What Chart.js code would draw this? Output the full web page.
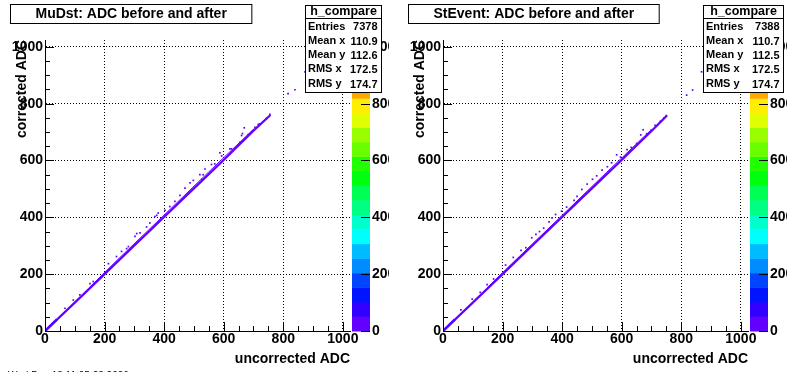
<!DOCTYPE html>
<html>
<head>
<meta charset="utf-8">
<script src="https://cdn.jsdelivr.net/npm/chart.js@4.4.0/dist/chart.umd.min.js"></script>
<style>
html, body { margin: 0; padding: 0; background: #fff; }
body { width: 796px; height: 372px; position: relative; overflow: hidden; }
.pad { position: absolute; top: 0; width: 389px; height: 372px; }
#padL { left: 0; }
#padR { left: 398px; }
</style>
</head>
<body>
<div class="pad" id="padL"><canvas id="cL" width="389" height="372"></canvas></div>
<div class="pad" id="padR"><canvas id="cR" width="389" height="372"></canvas></div>
<script>
// axis ranges (ADC counts) and colour scale range
const axisMax = 1024;
const zMax = 1024;
const nBands = 20;
const axisTicks = [0, 200, 400, 600, 800, 1000];
const zTicks = [0, 200, 400, 600, 800, 1000];

// MuDst panel
const mudstTitle = 'MuDst: ADC before and after';
const mudstStats = [['Entries', '7378'], ['Mean x', '110.9'], ['Mean y', '112.6'], ['RMS x', '172.5'], ['RMS y', '174.7']];
const mudstCore = [{x: 0, y: 0}, {x: 100, y: 100}, {x: 200, y: 200}, {x: 300, y: 301}, {x: 400, y: 401}, {x: 500, y: 502}, {x: 600, y: 602}, {x: 700, y: 705}, {x: 757, y: 760}];
const mudstFringe = [{x: 150, y: 154}, {x: 250, y: 257}, {x: 400, y: 408}, {x: 550, y: 560}, {x: 700, y: 710}];
const mudstLow = [{x: 0, y: 0}, {x: 40, y: 41}];
const mudstPeak = [{x: 2, y: 2}];
const mudstOutliers = [
  {x: 67, y: 80}, {x: 95, y: 109}, {x: 117, y: 127}, {x: 151, y: 167}, {x: 162, y: 174},
  {x: 213, y: 237}, {x: 240, y: 262}, {x: 257, y: 280}, {x: 274, y: 290}, {x: 280, y: 297},
  {x: 302, y: 333}, {x: 308, y: 343}, {x: 319, y: 345}, {x: 341, y: 366}, {x: 352, y: 380},
  {x: 369, y: 403}, {x: 375, y: 407}, {x: 380, y: 415}, {x: 403, y: 425}, {x: 419, y: 438},
  {x: 436, y: 456}, {x: 453, y: 477}, {x: 470, y: 503}, {x: 487, y: 521}, {x: 498, y: 530},
  {x: 520, y: 550}, {x: 526, y: 533}, {x: 531, y: 550}, {x: 537, y: 570}, {x: 559, y: 586},
  {x: 570, y: 588}, {x: 587, y: 627}, {x: 593, y: 616}, {x: 621, y: 641}, {x: 626, y: 641},
  {x: 654, y: 664}, {x: 660, y: 688}, {x: 663, y: 695}, {x: 669, y: 715}, {x: 682, y: 691},
  {x: 694, y: 701}, {x: 705, y: 717}, {x: 716, y: 727}, {x: 721, y: 729}, {x: 744, y: 748},
  {x: 755, y: 762}, {x: 816, y: 835}, {x: 839, y: 849}, {x: 873, y: 912}
];

// StEvent panel
const steventTitle = 'StEvent: ADC before and after';
const steventStats = [['Entries', '7388'], ['Mean x', '110.7'], ['Mean y', '112.5'], ['RMS x', '172.5'], ['RMS y', '174.7']];
const steventCore = [{x: 0, y: 0}, {x: 100, y: 100}, {x: 200, y: 200}, {x: 300, y: 301}, {x: 400, y: 401}, {x: 500, y: 502}, {x: 600, y: 602}, {x: 700, y: 704}, {x: 752, y: 758}];
const steventFringe = [{x: 150, y: 154}, {x: 250, y: 256}, {x: 400, y: 407}, {x: 550, y: 559}, {x: 700, y: 709}];
const steventLow = [{x: 0, y: 0}, {x: 40, y: 41}];
const steventPeak = [{x: 2, y: 2}];
const steventOutliers = [
  {x: 60, y: 74}, {x: 98, y: 112}, {x: 125, y: 136}, {x: 148, y: 163}, {x: 170, y: 183},
  {x: 210, y: 232}, {x: 236, y: 259}, {x: 262, y: 284}, {x: 278, y: 293}, {x: 298, y: 328},
  {x: 312, y: 340}, {x: 324, y: 350}, {x: 338, y: 362}, {x: 356, y: 384}, {x: 366, y: 398},
  {x: 378, y: 410}, {x: 398, y: 422}, {x: 415, y: 436}, {x: 440, y: 460}, {x: 450, y: 474},
  {x: 466, y: 498}, {x: 484, y: 517}, {x: 502, y: 534}, {x: 516, y: 546}, {x: 534, y: 566},
  {x: 552, y: 578}, {x: 566, y: 592}, {x: 583, y: 620}, {x: 596, y: 612}, {x: 618, y: 638},
  {x: 632, y: 646}, {x: 650, y: 660}, {x: 664, y: 690}, {x: 672, y: 708}, {x: 684, y: 694},
  {x: 698, y: 706}, {x: 712, y: 724}, {x: 730, y: 738}, {x: 742, y: 750}, {x: 750, y: 758},
  {x: 818, y: 830}, {x: 838, y: 848}, {x: 868, y: 912}
];

const footerText = 'Wed Dec 13 11:05:23 2006';
const FONT = "'Liberation Sans', Arial, Helvetica, sans-serif";

// ROOT "pretty" palette: 50 hues from violet to red, 20 contour bands
function bandColor(k) {
  const idx = Math.floor((k + 0.99) * 50 / nBands);
  const hue = 280 - (idx + 1) * 5.6;
  return `hsl(${hue.toFixed(1)}, 100%, 50%)`;
}

const rootPad = {
  id: 'rootPad',
  afterDraw(chart, args, opts) {
    const ctx = chart.ctx;
    const area = chart.chartArea;
    const xs = chart.scales.x, ys = chart.scales.y, zs = chart.scales.z;
    ctx.save();

    // ticks inside the frame
    ctx.strokeStyle = '#000';
    ctx.lineWidth = 1;
    ctx.beginPath();
    for (let v = 0; v <= 1000; v += 50) {
      const len = v % 200 === 0 ? 9 : 5;
      const px = Math.round(xs.getPixelForValue(v)) + 0.5;
      ctx.moveTo(px, area.bottom);
      ctx.lineTo(px, area.bottom - len);
      const py = Math.round(ys.getPixelForValue(v)) + 0.5;
      ctx.moveTo(area.left, py);
      ctx.lineTo(area.left + len, py);
    }
    ctx.stroke();

    // colour palette
    const bx = area.right + 2, bw = 18;
    for (let k = 0; k < nBands; k++) {
      const y0 = zs.getPixelForValue((k + 1) * zMax / nBands);
      const y1 = zs.getPixelForValue(k * zMax / nBands);
      ctx.fillStyle = bandColor(k);
      ctx.fillRect(bx, y0, bw, y1 - y0 + 0.5);
    }
    ctx.beginPath();
    zs.ticks.forEach(t => {
      const py = Math.round(zs.getPixelForValue(t.value)) + 0.5;
      ctx.moveTo(bx + bw - 9, py);
      ctx.lineTo(bx + bw, py);
    });
    ctx.stroke();

    // title box
    ctx.font = `bold 14px ${FONT}`;
    const tw = ctx.measureText(opts.title).width + 50;
    ctx.fillStyle = '#fff';
    ctx.fillRect(10.5, 4.5, tw, 19);
    ctx.strokeRect(10.5, 4.5, tw, 19);
    ctx.fillStyle = '#000';
    ctx.textAlign = 'center';
    ctx.textBaseline = 'middle';
    ctx.fillText(opts.title, 10.5 + tw / 2, 14.5);

    // statistics box
    const sx = 305.5, sy = 5.5, sw = opts.statsW, sh = 87;
    ctx.fillStyle = '#fff';
    ctx.fillRect(sx, sy, sw, sh);
    ctx.strokeRect(sx, sy, sw, sh);
    ctx.beginPath();
    ctx.moveTo(sx, 18.5);
    ctx.lineTo(sx + sw, 18.5);
    ctx.stroke();
    ctx.fillStyle = '#000';
    ctx.font = `bold 12.5px ${FONT}`;
    ctx.fillText('h_compare', sx + sw / 2, 12);
    ctx.font = `bold 11px ${FONT}`;
    opts.stats.forEach((row, i) => {
      const ry = 26.5 + i * 14.3;
      ctx.textAlign = 'left';
      ctx.fillText(row[0], sx + 2.5, ry);
      ctx.textAlign = 'right';
      ctx.fillText(row[1], sx + sw - 4, ry + 0.8);
    });

    // date stamp, mostly outside the pad
    if (opts.footer) {
      ctx.font = `10px ${FONT}`;
      ctx.textAlign = 'left';
      ctx.textBaseline = 'top';
      ctx.fillText(opts.footer, 8, 371);
    }
    ctx.restore();
  }
};

function fixedTicks(list) {
  return s => { s.ticks = list.map(v => ({ value: v })); };
}
const plainLabel = v => String(v);

function makePad(canvasId, title, stats, statsW, core, fringe, low, peak, outliers, footer) {
  const purple = bandColor(0);
  return new Chart(document.getElementById(canvasId), {
    type: 'scatter',
    data: {
      datasets: [
        { data: core, showLine: true, borderColor: purple, borderWidth: 2.2, pointRadius: 0 },
        { data: fringe, showLine: true, borderColor: purple, borderWidth: 1, pointRadius: 0 },
        { data: low, showLine: true, borderColor: bandColor(2), borderWidth: 2.4, pointRadius: 0 },
        { data: outliers, pointStyle: 'rect', pointRadius: 1.2, backgroundColor: purple, borderWidth: 0 },
        { data: peak, pointStyle: 'rect', pointRadius: 1.6, backgroundColor: bandColor(19), borderWidth: 0 }
      ]
    },
    options: {
      responsive: false,
      devicePixelRatio: 1,
      animation: false,
      events: [],
      layout: { padding: { top: 40, left: 0, right: 0, bottom: 0 } },
      plugins: {
        legend: { display: false },
        title: { display: false },
        tooltip: { enabled: false },
        rootPad: { title: title, stats: stats, statsW: statsW, footer: footer }
      },
      scales: {
        x: {
          type: 'linear', min: 0, max: axisMax,
          afterBuildTicks: fixedTicks(axisTicks),
          afterFit: s => { s.height = 41; },
          ticks: { color: '#000', padding: 0, maxRotation: 0, autoSkip: false, callback: plainLabel,
                   font: { family: FONT, size: 14, weight: 'bold', lineHeight: 1.1 } },
          grid: { color: '#000', lineWidth: 1, drawTicks: false },
          border: { color: '#000', width: 1, dash: [1, 2] },
          title: { display: true, text: 'uncorrected ADC', align: 'end', color: '#000',
                   padding: { top: 0, bottom: 4 }, font: { family: FONT, size: 14, weight: 'bold' } }
        },
        y: {
          type: 'linear', min: 0, max: axisMax,
          afterBuildTicks: fixedTicks(axisTicks),
          afterFit: s => { s.width = 45; },
          ticks: { color: '#000', padding: 2, autoSkip: false, callback: plainLabel,
                   font: { family: FONT, size: 14, weight: 'bold' } },
          grid: { color: '#000', lineWidth: 1, drawTicks: false },
          border: { color: '#000', width: 1, dash: [1, 2] },
          title: { display: true, text: 'corrected ADC', align: 'end', color: '#000',
                   padding: { top: 14, bottom: 0 }, font: { family: FONT, size: 14, weight: 'bold' } }
        },
        z: {
          type: 'linear', position: 'right', min: 0, max: zMax,
          afterBuildTicks: fixedTicks(zTicks),
          afterFit: s => { s.width = 39; },
          ticks: { color: '#000', padding: 22, autoSkip: false, callback: plainLabel,
                   font: { family: FONT, size: 14, weight: 'bold' } },
          grid: { display: false, drawTicks: false, drawOnChartArea: false },
          border: { display: false }
        }
      }
    },
    plugins: [rootPad]
  });
}

makePad('cL', mudstTitle, mudstStats, 76, mudstCore, mudstFringe, mudstLow, mudstPeak, mudstOutliers, footerText);
makePad('cR', steventTitle, steventStats, 80, steventCore, steventFringe, steventLow, steventPeak, steventOutliers, null);
</script>
</body>
</html>
